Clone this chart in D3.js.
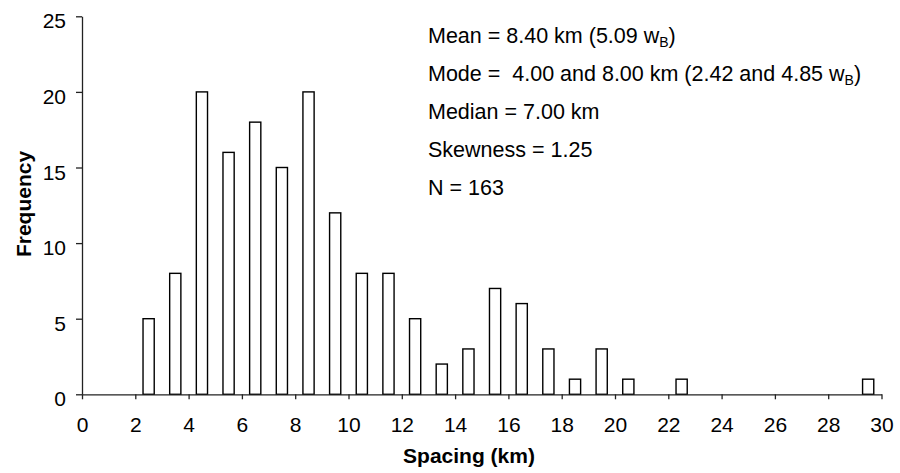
<!DOCTYPE html>
<html>
<head>
<meta charset="utf-8">
<script src="https://cdn.jsdelivr.net/npm/d3@7"></script>
<style>
  body { margin: 0; background: #fff; }
  svg { display: block; font-family: Arial, "Liberation Sans", sans-serif; }
  text { white-space: pre; }
</style>
</head>
<body>
<svg id="chart" width="900" height="473"></svg>
<script>
// Bin centres (km) and frequencies
const binCenters = [2.5, 3.5, 4.5, 5.5, 6.5, 7.5, 8.5, 9.5, 10.5, 11.5, 12.5, 13.5, 14.5, 15.5, 16.5, 17.5, 18.5, 19.5, 20.5, 22.5, 29.5];
const frequencies = [5, 8, 20, 16, 18, 15, 20, 12, 8, 8, 5, 2, 3, 7, 6, 3, 1, 3, 1, 1, 1];
const xTicks = [0, 2, 4, 6, 8, 10, 12, 14, 16, 18, 20, 22, 24, 26, 28, 30];
const yTicks = [0, 5, 10, 15, 20, 25];
const xTitle = "Spacing (km)";
const yTitle = "Frequency";
const statsLines = [
  { main: "Mean = 8.40 km (5.09 w", sub: "B", tail: ")" },
  { main: "Mode =  4.00 and 8.00 km (2.42 and 4.85 w", sub: "B", tail: ")" },
  { main: "Median = 7.00 km", sub: "", tail: "" },
  { main: "Skewness = 1.25", sub: "", tail: "" },
  { main: "N = 163", sub: "", tail: "" }
];

const svg = d3.select("#chart");
const plotLeft = 82, plotRight = 881.5, plotTop = 16.3, plotBottom = 394.3;

const x = d3.scaleLinear().domain([0, 30]).range([plotLeft, plotRight]);
const y = d3.scaleLinear().domain([0, 25]).range([plotBottom, plotTop]);
const halfW = 0.21;

// bars
svg.append("g").selectAll("rect")
  .data(binCenters.map((c, i) => ({ c, f: frequencies[i] })))
  .join("rect")
  .attr("x", d => x(d.c - halfW))
  .attr("width", d => x(d.c + halfW) - x(d.c - halfW))
  .attr("y", d => y(d.f))
  .attr("height", d => y(0) - y(d.f))
  .attr("fill", "#fff")
  .attr("stroke", "#000")
  .attr("stroke-width", 1.4);

// axes
const xAxis = svg.append("g")
  .attr("transform", `translate(0,${plotBottom})`)
  .call(d3.axisBottom(x).tickValues(xTicks).tickSize(5).tickSizeOuter(0).tickFormat(d3.format("d")));
const yAxis = svg.append("g")
  .attr("transform", `translate(${plotLeft},0)`)
  .call(d3.axisLeft(y).tickValues(yTicks).tickSize(6).tickSizeOuter(0).tickPadding(10).tickFormat(d3.format("d")));

[xAxis, yAxis].forEach(g => {
  g.select(".domain").attr("stroke", "#222").attr("stroke-width", 1.3);
  g.selectAll(".tick line").attr("stroke", "#222").attr("stroke-width", 1.3);
  g.selectAll(".tick text").attr("fill", "#000").attr("font-size", 21)
    .attr("font-family", "Arial, 'Liberation Sans', sans-serif");
});
xAxis.selectAll(".tick text").attr("y", 38).attr("dy", 0);
yAxis.selectAll(".tick text").attr("dy", 11.5);

// axis titles
svg.append("text")
  .attr("x", 469).attr("y", 463)
  .attr("text-anchor", "middle")
  .attr("font-size", 21).attr("font-weight", "bold")
  .text(xTitle);
svg.append("text")
  .attr("transform", `translate(31,204) rotate(-90)`)
  .attr("text-anchor", "middle")
  .attr("font-size", 21).attr("font-weight", "bold")
  .text(yTitle);

// statistics block
const stats = svg.append("g");
statsLines.forEach((l, i) => {
  const t = stats.append("text")
    .attr("x", 428).attr("y", 43 + i * 38)
    .attr("font-size", 21.5).attr("fill", "#000");
  t.append("tspan").text(l.main);
  if (l.sub) {
    t.append("tspan").attr("font-size", 14).attr("dy", 4).text(l.sub);
    t.append("tspan").attr("dy", -4).text(l.tail);
  }
});
</script>
</body>
</html>
